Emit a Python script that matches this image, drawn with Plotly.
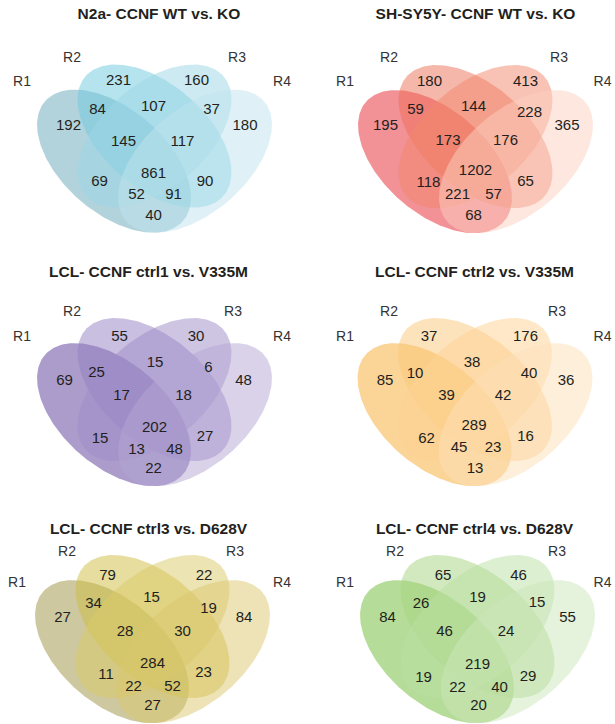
import numpy as np
import plotly.graph_objects as go

# ---------------- data ----------------
titles = [
    "N2a- CCNF WT vs. KO",
    "SH-SY5Y- CCNF WT vs. KO",
    "LCL- CCNF ctrl1 vs. V335M",
    "LCL- CCNF ctrl2 vs. V335M",
    "LCL- CCNF ctrl3 vs. D628V",
    "LCL- CCNF ctrl4 vs. D628V",
]
set_names = ["R1", "R2", "R3", "R4"]
# region order: 1, 2, 3, 4, 12, 23, 34, 123, 234, 1234, 13, 24, 134, 124, 14
region_keys = ["1", "2", "3", "4", "12", "23", "34", "123", "234", "1234",
               "13", "24", "134", "124", "14"]
counts_n2a = [192, 231, 160, 180, 84, 107, 37, 145, 117, 861, 69, 90, 52, 91, 40]
counts_shsy5y = [195, 180, 413, 365, 59, 144, 228, 173, 176, 1202, 118, 65, 221, 57, 68]
counts_ctrl1_v335m = [69, 55, 30, 48, 25, 15, 6, 17, 18, 202, 15, 27, 13, 48, 22]
counts_ctrl2_v335m = [85, 37, 176, 36, 10, 38, 40, 39, 42, 289, 62, 16, 45, 23, 13]
counts_ctrl3_d628v = [27, 79, 22, 84, 34, 15, 19, 28, 30, 284, 11, 23, 22, 52, 27]
counts_ctrl4_d628v = [84, 65, 46, 55, 26, 19, 15, 46, 24, 219, 19, 29, 22, 40, 20]
all_counts = [counts_n2a, counts_shsy5y, counts_ctrl1_v335m,
              counts_ctrl2_v335m, counts_ctrl3_d628v, counts_ctrl4_d628v]

# ---------------- layout / style ----------------
W, H = 615, 724
SX, SY = 270.0, 251.0
EA, EB = 0.35, 0.20
ELLIPSES = [(0.35, 0.47, -45), (0.50, 0.57, -45), (0.50, 0.57, 45), (0.65, 0.47, 45)]
V_TOP = 0.855

# (center x, top y) of each panel's diagram
anchors = [(154.5, 64.5), (475.5, 65.0), (154.5, 318.0),
           (475.0, 318.0), (152.5, 555.0), (477.5, 555.0)]

palettes = [
    [(103, 167, 185), (109, 201, 221), (155, 213, 229), (191, 227, 237)],
    [(229, 35, 45), (237, 111, 87), (241, 135, 107), (251, 207, 191)],
    [(87, 57, 151), (147, 127, 193), (157, 139, 199), (179, 165, 211)],
    [(247, 169, 47), (251, 199, 121), (253, 209, 145), (253, 223, 183)],
    [(155, 145, 65), (205, 187, 63), (217, 201, 101), (219, 199, 109)],
    [(109, 185, 51), (165, 211, 127), (185, 223, 161), (203, 229, 185)],
]
ALPHA = 0.5

# region label offsets (dx from panel center, dy from diagram top)
label_offsets = [
    [(-86, 61.5), (-36, 17), (42, 17), (90.5, 61.5), (-57, 45.5), (-1, 43), (57, 45.5),
     (-31, 78), (28, 78), (-1, 109.5), (-55, 118), (50.5, 118), (-18, 130.5), (19, 130.5), (-1, 152)],
    [(-90, 61), (-46, 17), (50, 17), (91.5, 61), (-60, 45), (-2, 42.3), (54, 48.3),
     (-27.5, 76.7), (30, 76.7), (0, 106.7), (-47, 118.3), (50, 117.7), (-18, 130), (18, 130), (-2, 151)],
    [(-90, 63.4), (-35, 19), (41.5, 19), (89, 63.4), (-58, 55.7), (0.5, 45), (54, 50),
     (-33, 78.4), (29, 78.4), (0, 110), (-54.5, 121), (50.5, 119.4), (-18, 132.7), (20, 132.7), (-1, 151)],
    [(-90, 63.4), (-46, 19), (50.5, 19), (91, 63.4), (-60, 56), (-3, 45), (54, 56),
     (-28.5, 78.4), (28, 78.4), (-1, 108), (-48.5, 121), (50.5, 119.4), (-16, 130), (18, 130), (0, 151)],
    [(-90, 63.3), (-45, 21), (51.5, 21), (91.5, 63.3), (-59, 49), (-1, 43.3), (56, 54.3),
     (-27.5, 77.7), (30, 77.7), (0, 109.3), (-46.5, 120.7), (51, 118.3), (-19, 132.3), (20, 132.3), (0, 151.7)],
    [(-90, 63.3), (-34.5, 21), (41, 21), (90, 63.3), (-56.5, 49), (0, 43.3), (59.5, 48.3),
     (-33, 77.7), (28.5, 77.7), (0, 110), (-54, 123.3), (50.5, 122.7), (-20, 133.3), (22, 133.3), (1, 151.7)],
]

title_pos = [(159, 15), (475.5, 15), (148.5, 273), (474.5, 273), (148.5, 530), (474.5, 530)]
setlabel_pos = [
    [(22, 82), (72, 58), (237, 58), (282, 82)],
    [(345, 82), (389, 58), (559, 58), (602.5, 82)],
    [(22, 337), (72, 312), (233, 312), (282, 337)],
    [(345, 337), (389, 312), (557, 312), (602.5, 337)],
    [(17, 583), (67, 552), (235, 552), (282, 583)],
    [(345, 583), (395, 552), (557, 552), (602.5, 583)],
]

FONT = "Liberation Sans, Arial, Helvetica, sans-serif"
TEXT_COLOR = "#231f20"


def ellipse_xy(cx, top, u0, v0, rot):
    t = np.linspace(0, 2 * np.pi, 241)
    r = np.deg2rad(rot)
    u = EA * np.cos(t) * np.cos(r) - EB * np.sin(t) * np.sin(r) + u0
    v = EA * np.cos(t) * np.sin(r) + EB * np.sin(t) * np.cos(r) + v0
    return cx + (u - 0.5) * SX, top + (V_TOP - v) * SY


fig = go.Figure()
for p in range(6):
    cx, top = anchors[p]
    for i, (u0, v0, rot) in enumerate(ELLIPSES):
        x, y = ellipse_xy(cx, top, u0, v0, rot)
        c = palettes[p][i]
        fig.add_trace(go.Scatter(
            x=x, y=y, mode="lines", fill="toself",
            fillcolor=f"rgba({c[0]},{c[1]},{c[2]},{ALPHA})",
            line=dict(width=0, color="rgba(0,0,0,0)"),
            hoverinfo="skip", showlegend=False))
    # region counts
    fig.add_trace(go.Scatter(
        x=[cx + dx for dx, dy in label_offsets[p]],
        y=[top + dy for dx, dy in label_offsets[p]],
        mode="text", text=[str(v) for v in all_counts[p]],
        textposition="middle center",
        textfont=dict(family=FONT, size=15, color=TEXT_COLOR),
        hoverinfo="skip", showlegend=False, cliponaxis=False))
    # set labels
    fig.add_trace(go.Scatter(
        x=[q[0] for q in setlabel_pos[p]], y=[q[1] for q in setlabel_pos[p]],
        mode="text", text=set_names, textposition="middle center",
        textfont=dict(family=FONT, size=14, color="#333333"),
        hoverinfo="skip", showlegend=False, cliponaxis=False))
    # title
    fig.add_trace(go.Scatter(
        x=[title_pos[p][0]], y=[title_pos[p][1]], mode="text",
        text=[f"<b>{titles[p]}</b>"], textposition="middle center",
        textfont=dict(family=FONT, size=15.5, color="#231f20"),
        hoverinfo="skip", showlegend=False, cliponaxis=False))

fig.update_layout(
    width=W, height=H, margin=dict(l=0, r=0, t=0, b=0),
    paper_bgcolor="white", plot_bgcolor="white",
    xaxis=dict(range=[0, W], visible=False, fixedrange=True),
    yaxis=dict(range=[H, 0], visible=False, fixedrange=True),
    showlegend=False,
)
fig.write_html(
    "out.html",
    config={"displayModeBar": False, "staticPlot": True},
    post_script="document.body.style.margin='0px';document.body.style.overflow='hidden';",
)
